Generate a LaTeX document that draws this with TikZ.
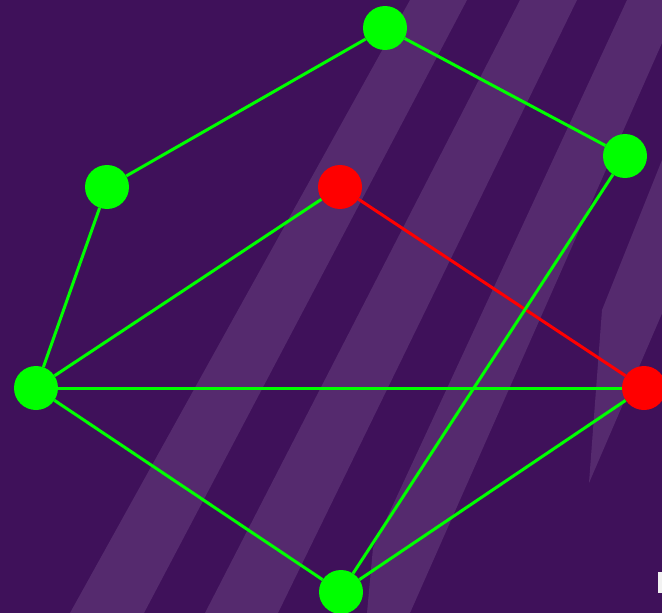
\documentclass[tikz,border=0pt]{standalone}
\begin{document}
\begin{tikzpicture}[x=1pt,y=-1pt,
  bgdark/.style={fill={rgb,255:red,63;green,17;blue,90}},
  bglight/.style={fill={rgb,255:red,85;green,42;blue,110}},
  gnode/.style={circle,fill={rgb,255:red,0;green,255;blue,0},draw=none,minimum size=44pt,inner sep=0pt},
  rnode/.style={circle,fill={rgb,255:red,255;green,0;blue,0},draw=none,minimum size=44pt,inner sep=0pt},
  gedge/.style={draw={rgb,255:red,0;green,255;blue,0},line width=3pt},
  redge/.style={draw={rgb,255:red,255;green,0;blue,0},line width=3pt}]
\useasboundingbox (0,0) rectangle (662,613);
\begin{scope}
\clip (0,0) rectangle (662,613);
\path[bgdark] (0,0) rectangle (662,613);
\path[bglight] (410,0) -- (467,0) -- (144,613) -- (70,613) -- cycle;
\path[bglight] (520,0) -- (577,0) -- (278,613) -- (205,613) -- cycle;
\path[bglight] (627,0) -- (681,0) -- (410,613) -- (367,613) -- (373,548) -- cycle;
\path[bglight] (726,0) -- (797,0) -- (589,483) -- (602,310) -- cycle;
\fill[white!90!gray] (658,572) rectangle (662,593);
\end{scope}
% nodes
\node[gnode] (top) at (385,28) {};
\node[gnode] (ul) at (107,187) {};
\node[gnode] (ur) at (625,156) {};
\node[rnode] (rm) at (340,187) {};
\node[gnode] (lf) at (36,388) {};
\node[rnode] (rr) at (644,388) {};
\node[gnode] (bt) at (341,592) {};
% edges
\begin{scope}[on background layer/.style={}]
\end{scope}
\draw[gedge] (top) -- (ul);
\draw[gedge] (top) -- (ur);
\draw[gedge] (ul) -- (lf);
\draw[gedge] (lf) -- (rm);
\draw[gedge] (lf) -- (rr);
\draw[gedge] (lf) -- (bt);
\draw[redge] (rm) -- (rr);
\draw[gedge] (ur) -- (bt);
\draw[gedge] (bt) -- (rr);
\end{tikzpicture}
\end{document}
